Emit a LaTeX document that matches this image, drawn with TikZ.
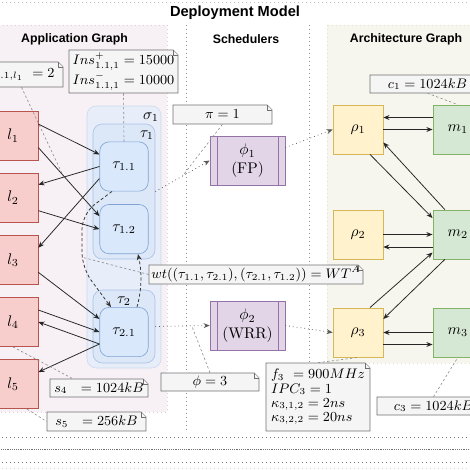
\documentclass[tikz,border=0pt]{standalone}
\usepackage{fontspec}
\newfontfamily\headfont{Liberation Sans}
\usetikzlibrary{arrows.meta}
\usetikzlibrary{positioning}
\usetikzlibrary{calc}
\usetikzlibrary{fit}
\definecolor{linkfill}{HTML}{F8CECC}
\definecolor{linkdraw}{HTML}{B85450}
\definecolor{taskfill}{HTML}{DAE8FC}
\definecolor{taskdraw}{HTML}{7EA3D4}
\definecolor{grpfill}{HTML}{DCE7F8}
\definecolor{grpdraw}{HTML}{A9C1E6}
\definecolor{sigfill}{HTML}{E7EEF9}
\definecolor{sigdraw}{HTML}{CBDAF0}
\definecolor{schedfill}{HTML}{E1D5E7}
\definecolor{scheddraw}{HTML}{9673A6}
\definecolor{procfill}{HTML}{FFF2CC}
\definecolor{procdraw}{HTML}{D6B656}
\definecolor{memfill}{HTML}{D5E8D4}
\definecolor{memdraw}{HTML}{82B366}
\definecolor{notefill}{HTML}{F5F5F5}
\definecolor{notedraw}{HTML}{707070}
\definecolor{appfill}{HTML}{F7F0F4}
\definecolor{appdraw}{HTML}{E2CAD5}
\definecolor{archfill}{HTML}{F6F6EE}
\definecolor{archdraw}{HTML}{DCE2C6}
\tikzstyle{buffer}=[rectangle, draw=linkdraw, fill=linkfill, minimum width=32.5pt, minimum height=32pt]
\tikzstyle{task}=[rectangle, rounded corners=6pt, draw=taskdraw, fill=taskfill, minimum width=31.5pt, minimum height=32pt]
\tikzstyle{group}=[rectangle, rounded corners=6pt, inner sep=0pt]
\tikzstyle{sched}=[rectangle, draw=scheddraw, fill=schedfill, minimum width=48.75pt, minimum height=32pt, align=center,
    path picture={\draw[scheddraw] ([xshift=4.6pt]path picture bounding box.north west) -- ([xshift=4.6pt]path picture bounding box.south west)
                                    ([xshift=-4.6pt]path picture bounding box.north east) -- ([xshift=-4.6pt]path picture bounding box.south east);}]
\tikzstyle{proc}=[rectangle, draw=procdraw, fill=procfill, minimum width=32.5pt, minimum height=32pt]
\tikzstyle{mem}=[rectangle, draw=memdraw, fill=memfill, minimum width=32.5pt, minimum height=32pt]
\tikzstyle{notebox}=[draw=notedraw, fill=notefill, line width=0.5pt]
\tikzstyle{notetext}=[inner sep=0pt, font=\fontsize{9.2}{11.2}\selectfont]
\tikzstyle{head}=[font=\headfont\bfseries\fontsize{8}{9}\selectfont]
\tikzstyle{flow}=[->, line width=0.5pt, black!85]
\tikzstyle{dep}=[->, dash pattern=on 2pt off 1.5pt, line width=0.5pt, black!80]
\tikzstyle{map}=[->, dotted, line width=0.5pt, black!65]
\tikzstyle{anno}=[dash pattern=on 1.5pt off 1.5pt, line width=0.4pt, black!45]
\tikzstyle{frame}=[dotted, line width=0.6pt, black!55]
% note with folded corner: name, x1, y1, x2, y2, text
\newcommand{\annot}[7][]{%
    \draw[notebox] (#3,#4) -- ({#5-5},#4) -- (#5,{#4+5}) -- (#5,#6) -- (#3,#6) -- cycle;
    \draw[notebox] ({#5-5},#4) -- ({#5-5},{#4+5}) -- (#5,{#4+5});
    \node[notetext, minimum width={(#5-(#3))*0.65pt}, minimum height={(#6-(#4))*0.65pt}, #1] (#2) at ({(#3+#5)/2},{(#4+#6)/2}) {#7};}

\begin{document}
\begin{tikzpicture}[x=0.65pt, y=-0.65pt, >={Stealth[length=4pt,width=3.2pt]}]
    \useasboundingbox (0,0) rectangle (470,470);
    \clip (0,0) rectangle (470,470);

    % panels
    \draw[black!25, dotted, line width=0.6pt] (-10,2) -- (480,2);
    \draw[appdraw, fill=appfill, dotted, line width=0.6pt] (-20,25) rectangle (167,412);
    \draw[archdraw, fill=archfill, dotted, line width=0.6pt] (327,25) rectangle (490,363);
    \draw[black!45, dotted, line width=0.6pt] (186,25) -- (186,433);
    \draw[black!45, dotted, line width=0.6pt] (309,25) -- (309,433);
    \draw[frame] (-10,437) -- (480,437);
    \draw[black!55, dash pattern=on 0.6pt off 0.6pt, line width=0.6pt] (-10,449) -- (480,449);
    \draw[frame] (-10,462) -- (480,462);
    \draw[black!15, dotted, line width=0.6pt] (-10,468) -- (480,468);

    \node[font=\headfont\bfseries\fontsize{9.5}{11}\selectfont] (title) at (235,13) {Deployment Model};
    \node[head] (hApp) at (74.5,39) {Application Graph};
    \node[head] (hSched) at (246,39) {Schedulers};
    \node[head] (hArch) at (406,39) {Architecture Graph};

    % groups
    \node[group, fill=sigfill, draw=sigdraw, fit={(87,106) (161,368)}] (sigma1) {};
    \node[group, fill=grpfill, draw=grpdraw, fit={(93,124) (155,259)}] (tau1) {};
    \node[group, fill=grpfill, draw=grpdraw, fit={(93,290) (155,363)}] (tau2) {};
    \node (lSigma) at (151,117) {$\sigma_1$};
    \node (lTau1) at (147,135) {$\tau_1$};
    \node (lTau2) at (124,301) {$\tau_2$};

    % nodes
    \node[buffer] (l1) at (13,135.5) {$l_1$};
    \node[buffer, below=8pt of l1] (l2) {$l_2$};
    \node[buffer, below=8pt of l2] (l3) {$l_3$};
    \node[buffer, below=8pt of l3] (l4) {$l_4$};
    \node[buffer, below=8pt of l4] (l5) {$l_5$};

    \node[task] (t11) at (124,166.5) {$\tau_{1.1}$};
    \node[task, below=8.3pt of t11] (t12) {$\tau_{1.2}$};
    \node[task] (t21) at (124,332) {$\tau_{2.1}$};

    \node[sched] (phi1) at (247.5,160.5) {$\phi_1$\\(FP)};
    \node[sched] (phi2) at (247.5,325.5) {$\phi_2$\\(WRR)};

    \node[proc] (r1) at (358,129.5) {$\rho_1$};
    \node[proc] (r2) at (358,234.5) {$\rho_2$};
    \node[proc] (r3) at (358,332.5) {$\rho_3$};
    \node[mem, right=32pt of r1] (m1) {$m_1$};
    \node[mem, right=32pt of r2] (m2) {$m_2$};
    \node[mem, right=32pt of r3] (m3) {$m_3$};

    % application edges
    \draw[flow] ($(l1.east)+(0,-11.5)$) -- ($(t11.west)+(0,-12)$);
    \draw[flow] (t11.west) -- ($(l2.east)+(0,-13)$);
    \draw[flow] ($(l1.east)+(0,12)$) -- coordinate[pos=0.4] (cTau) ($(t12.west)+(0,-13)$);
    \draw[flow] ($(l2.east)+(0,13)$) -- (t12.west);
    \draw[flow] ($(t11.west)+(0,12)$) -- ($(l3.east)+(0,-12)$);
    \draw[flow] ($(l3.east)+(0,12.5)$) -- ($(t21.west)+(0,-13)$);
    \draw[flow] ($(l4.east)+(0,-12)$) -- (t21.west);
    \draw[flow] ($(t21.west)+(0,12)$) -- (l4.east);
    \draw[flow] ($(t21.west)+(0,12)$) -- ($(l5.east)+(0,-12)$);

    \draw[dep, rounded corners=10] ($(t11.south)+(-12,0)$) -- (82,214) -- coordinate[pos=0.8] (cWt) (82,268) -- ($(t21.north)+(-13,0)$);
    \draw[dep] ($(t21.north)+(13,0)$) .. controls (143,285) and (141,268) .. ($(t12.south)+(14,0)$);

    % mapping
    \draw[map] (tau1.east) -- coordinate[pos=0.5] (cPi) (phi1.west);
    \draw[map] ($(phi1.east)+(0,-13)$) -- (r1.west);
    \draw[map] (tau2.east) -- coordinate[pos=0.67] (cPhi) (phi2.west);
    \draw[map] (phi2.east) -- (r3.west);

    % architecture edges
    \draw[flow] ($(m1.west)+(0,-12)$) -- ($(r1.east)+(0,-12)$);
    \draw[flow] (r1.east) -- (m1.west);
    \draw[flow] ($(r1.south)+(12,0)$) -- ($(m2.west)+(0,-16.5)$);
    \draw[flow] ($(m2.north)+(-13,0)$) -- ($(r1.east)+(0,13)$);
    \draw[flow] (r2.east) -- (m2.west);
    \draw[flow] ($(m2.west)+(0,12.5)$) -- ($(r2.east)+(0,12.5)$);
    \draw[flow] ($(r3.north)+(12,0)$) -- ($(m2.west)+(0,18)$);
    \draw[flow] ($(m2.south)+(-13,0)$) -- ($(r3.east)+(0,-13.5)$);
    \draw[flow] (m3.west) -- (r3.east);
    \draw[flow] ($(r3.east)+(0,12)$) -- ($(m3.west)+(0,12)$);

    % notes
    \annot{nTau}{-20}{62}{63}{87}{$\tau_{1.1,l_1}\ = 2$}
    \annot[align=left]{nIns}{69}{50}{178}{93}{$Ins^{+}_{1.1,1} = 15000$\\[0.5pt]$Ins^{-}_{1.1,1} = 10000$}
    \annot{nPi}{173}{105}{272}{124}{$\pi = 1$}
    \annot{nWt}{149}{265}{363}{284}{$wt((\tau_{1.1},\tau_{2.1}),(\tau_{2.1},\tau_{1.2})) = WT^A$}
    \annot{nPhi}{161}{373}{259}{391}{$\phi = 3$}
    \annot{nC1}{370}{75}{485}{93}{$c_1 = 1024kB$}
    \annot{nC3}{377}{397}{490}{415}{$c_3 = 1024kB$}
    \annot[align=left]{nF3}{266}{363}{370}{431}{$f_3\ = 900MHz$\\[-2pt]$IPC_3 = 1$\\[-2pt]$\kappa_{3,1,2} = 2ns$\\[-2pt]$\kappa_{3,2,2} = 20ns$}
    \annot{nS4}{50}{379}{148}{397}{$s_4\ \ = 1024kB$}
    \annot{nS5}{47}{412}{146}{431}{$s_5\ \ = 256kB$}

    \draw[anno] (nTau.south) -- (cTau);
    \draw[anno] (nIns.south) -- (t11.north);
    \draw[anno] (nPi.south) -- (cPi);
    \draw[anno] (nWt.west) -- (cWt);
    \draw[anno] (nPhi.north) -- (cPhi);
    \draw[anno] (nC1.south) -- (m1.north);
    \draw[anno] (nC3.north) -- (m3.south);
    \draw[anno] (nF3.north) -- (r3.south);
    \draw[anno] (l4.south) -- ($(nS4.north west)+(23,0)$);
    \draw[anno] ($(l5.south)+(14,0)$) -- (nS5.west);
\end{tikzpicture}
\end{document}
